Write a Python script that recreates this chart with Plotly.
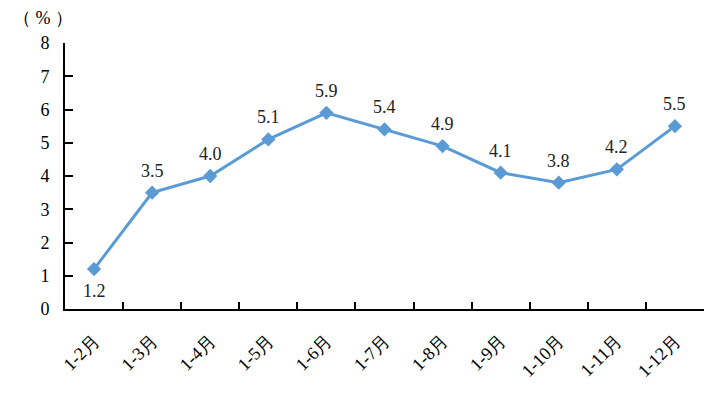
import plotly.graph_objects as go

categories = ["1-2月", "1-3月", "1-4月", "1-5月", "1-6月", "1-7月", "1-8月", "1-9月", "1-10月", "1-11月", "1-12月"]
values = [1.2, 3.5, 4.0, 5.1, 5.9, 5.4, 4.9, 4.1, 3.8, 4.2, 5.5]
labels = [f"{v:.1f}" for v in values]
label_above = [False] + [True] * (len(values) - 1)

FONT = "Times New Roman, Liberation Serif, serif"

fig = go.Figure()
fig.add_trace(go.Scatter(
    x=categories, y=values, mode="lines+markers",
    line=dict(color="#5B9BD5", width=3),
    marker=dict(symbol="diamond", size=11, color="#5B9BD5"),
    cliponaxis=False, showlegend=False, hoverinfo="skip",
))

annotations = []
for c, v, t, above in zip(categories, values, labels, label_above):
    annotations.append(dict(
        x=c, y=v, xref="x", yref="y", text=t, showarrow=False,
        xanchor="center", yanchor="middle", yshift=22 if above else -22,
        font=dict(family=FONT, size=18, color="#222222"),
    ))
annotations.append(dict(
    text="（ % ）", x=(43 - 65) / (719 - 80), y=(396 - 87 - 18) / (396 - 130),
    xref="paper", yref="paper", xanchor="center", yanchor="middle",
    showarrow=False, font=dict(family=FONT, size=18, color="black"),
))

fig.update_layout(
    width=719, height=396,
    margin=dict(l=65, r=15, t=43, b=87),
    paper_bgcolor="white", plot_bgcolor="white",
    font=dict(family=FONT, size=18, color="black"),
    xaxis=dict(
        type="category", range=[-0.5, 10.5],
        showline=True, linecolor="black", linewidth=2,
        ticks="inside", tickson="boundaries", ticklen=7, tickwidth=2, tickcolor="black",
        tickangle=-45, showgrid=False, zeroline=False, ticklabelstandoff=12,
        tickfont=dict(family=FONT, size=18, color="black"),
    ),
    yaxis=dict(
        range=[0, 8], dtick=1, tick0=0,
        showline=True, linecolor="black", linewidth=2,
        ticks="inside", ticklen=8, tickwidth=2, tickcolor="black",
        showgrid=False, zeroline=False, ticklabelstandoff=10,
        tickfont=dict(family=FONT, size=18, color="black"),
    ),
    annotations=annotations,
)

fig.write_html("out.html", config={"displayModeBar": False})
with open("out.html", encoding="utf-8") as f:
    html = f.read()
html = html.replace("<head>", "<head><style>html,body{margin:0;padding:0;}</style>", 1)
with open("out.html", "w", encoding="utf-8") as f:
    f.write(html)
